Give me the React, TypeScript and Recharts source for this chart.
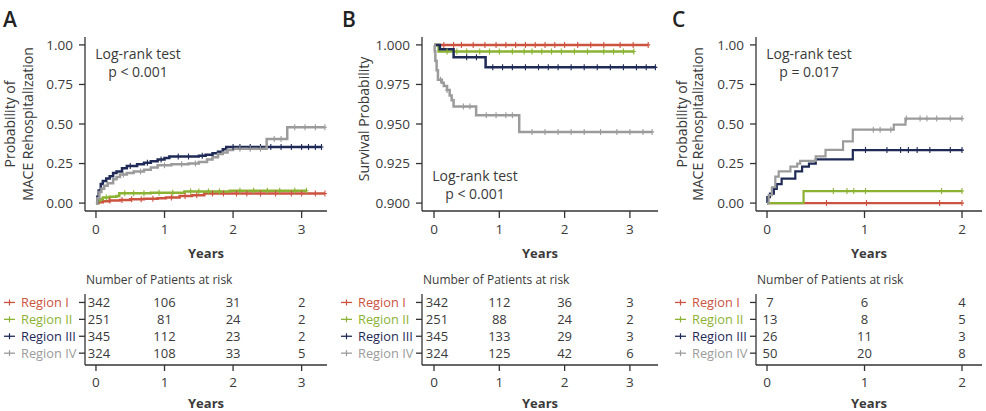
import React from 'react';
import { ComposedChart, Line, XAxis, YAxis, Scatter, Customized } from 'recharts';

type Step = [number, number];

const FONT = '"Open Sans", "Noto Sans", sans-serif';
const INK = '#3a3a3a';
const AXIS = '#333333';

const regionNames = ['Region I', 'Region II', 'Region III', 'Region IV'];
const regionColors = ['#CC5340', '#8BB233', '#1F2A56', '#9B9B9B'];

// ---------- Panel A : MACE rehospitalization (cumulative incidence) ----------
const aStepsI: Step[] = [[0, 0], [0.04, 0.006], [0.1, 0.012], [0.2, 0.017], [0.35, 0.02], [0.5, 0.024], [0.7, 0.028], [0.9, 0.031], [1.02, 0.036], [1.22, 0.045], [1.4, 0.05], [1.58, 0.061], [3.34, 0.061]];
const aStepsII: Step[] = [[0, 0], [0.03, 0.015], [0.06, 0.025], [0.1, 0.035], [0.2, 0.04], [0.3, 0.045], [0.34, 0.063], [0.8, 0.066], [1.29, 0.074], [1.95, 0.078], [3.07, 0.078]];
const aStepsIII: Step[] = [[0, 0], [0.02, 0.04], [0.04, 0.08], [0.07, 0.12], [0.1, 0.14], [0.15, 0.155], [0.2, 0.17], [0.25, 0.19], [0.3, 0.2], [0.38, 0.22], [0.45, 0.235], [0.6, 0.245], [0.7, 0.255], [0.8, 0.265], [0.9, 0.275], [1.0, 0.285], [1.07, 0.295], [1.5, 0.3], [1.6, 0.305], [1.7, 0.315], [1.78, 0.325], [1.85, 0.34], [1.9, 0.355], [3.29, 0.355]];
const aStepsIV: Step[] = [[0, 0], [0.02, 0.03], [0.05, 0.07], [0.08, 0.09], [0.12, 0.11], [0.17, 0.125], [0.25, 0.15], [0.3, 0.165], [0.35, 0.18], [0.45, 0.19], [0.55, 0.2], [0.7, 0.21], [0.8, 0.225], [0.9, 0.24], [1.1, 0.245], [1.35, 0.25], [1.5, 0.26], [1.62, 0.275], [1.7, 0.29], [1.78, 0.31], [1.85, 0.32], [1.92, 0.335], [2.0, 0.343], [2.49, 0.405], [2.79, 0.479], [3.34, 0.479]];
const aCensorI = [0.2, 0.38, 0.52, 0.66, 0.83, 1.1, 1.3, 1.47, 1.7, 1.86, 2.05, 2.2, 2.4, 2.62, 2.85, 3.0, 3.2, 3.34];
const aCensorII = [0.15, 0.42, 0.55, 0.7, 0.92, 1.12, 1.38, 1.5, 1.64, 1.8, 2.1, 2.3, 2.5, 2.68, 2.9, 3.07];
const aCensorIII = [0.5, 0.75, 0.95, 1.2, 1.35, 1.55, 2.0, 2.1, 2.25, 2.4, 2.55, 2.7, 2.85, 3.0, 3.1, 3.2, 3.29];
const aCensorIV = [0.4, 0.65, 1.0, 1.25, 1.45, 2.1, 2.25, 2.4, 2.6, 2.7, 2.9, 3.05, 3.2, 3.34];

// ---------- Panel B : survival probability ----------
const bStepsI: Step[] = [[0, 1], [3.28, 1]];
const bStepsII: Step[] = [[0, 1], [0.07, 0.9958], [3.06, 0.9958]];
const bStepsIII: Step[] = [[0, 1], [0.09, 0.9972], [0.3, 0.9922], [0.79, 0.9858], [3.39, 0.9858]];
const bStepsIV: Step[] = [[0, 1], [0.01, 0.996], [0.02, 0.99], [0.04, 0.984], [0.06, 0.978], [0.12, 0.976], [0.15, 0.974], [0.2, 0.9715], [0.24, 0.968], [0.27, 0.965], [0.3, 0.961], [0.645, 0.9555], [1.305, 0.945], [3.34, 0.945]];
const bCensorI = [0.15, 0.3, 0.42, 0.6, 0.78, 0.95, 1.1, 1.25, 1.4, 1.55, 1.7, 1.85, 2.0, 2.2, 2.4, 2.6, 2.85, 3.05, 3.28];
const bCensorII = [0.2, 0.35, 0.5, 0.7, 0.85, 1.0, 1.2, 1.38, 1.5, 1.65, 1.8, 1.95, 2.15, 2.35, 2.6, 2.75, 2.9, 3.06];
const bCensorIII = [0.5, 0.65, 0.9, 1.05, 1.2, 1.4, 1.6, 1.75, 1.9, 2.1, 2.3, 2.5, 2.7, 2.9, 3.1, 3.25, 3.39];
const bCensorIV = [0.1, 0.2, 0.45, 0.55, 0.8, 0.95, 1.1, 1.2, 1.5, 1.7, 1.9, 2.1, 2.3, 2.55, 2.8, 3.0, 3.2, 3.34];

// ---------- Panel C : MACE rehospitalization ----------
const cStepsI: Step[] = [[0, 0], [2.0, 0]];
const cStepsII: Step[] = [[0, 0], [0.375, 0.076], [2.0, 0.076]];
const cStepsIII: Step[] = [[0, 0], [0.003, 0.038], [0.03, 0.06], [0.07, 0.09], [0.1, 0.12], [0.15, 0.155], [0.29, 0.2], [0.36, 0.23], [0.43, 0.25], [0.5, 0.277], [0.88, 0.335], [2.0, 0.335]];
const cStepsIV: Step[] = [[0, 0], [0.017, 0.05], [0.05, 0.1], [0.085, 0.167], [0.12, 0.2], [0.24, 0.23], [0.31, 0.25], [0.34, 0.267], [0.5, 0.295], [0.6, 0.336], [0.78, 0.39], [0.88, 0.464], [1.3, 0.496], [1.42, 0.534], [2.0, 0.534]];
const cCensorI = [0.61, 1.02, 1.77, 2.0];
const cCensorII = [0.68, 0.82, 0.89, 1.01, 1.79, 2.0];
const cCensorIII = [1.01, 1.23, 1.37, 1.45, 1.54, 1.67, 1.88, 2.0];
const cCensorIV = [1.09, 1.16, 1.27, 1.43, 1.57, 1.64, 1.74, 1.88, 2.0];

// ---------- Numbers at risk ----------
const riskTimesAB = [0, 1, 2, 3];
const riskTimesC = [0, 1, 2];
const riskA_I = [342, 106, 31, 2];
const riskA_II = [251, 81, 24, 2];
const riskA_III = [345, 112, 23, 2];
const riskA_IV = [324, 108, 33, 5];
const riskB_I = [342, 112, 36, 3];
const riskB_II = [251, 88, 24, 2];
const riskB_III = [345, 133, 29, 3];
const riskB_IV = [324, 125, 42, 6];
const riskC_I = [7, 6, 4];
const riskC_II = [13, 8, 5];
const riskC_III = [26, 11, 3];
const riskC_IV = [50, 20, 8];

// ---------- Axis ticks ----------
const probTicks = [0, 0.25, 0.5, 0.75, 1];
const survTicks = [0.9, 0.925, 0.95, 0.975, 1];
const yearTicks3 = [0, 1, 2, 3];
const yearTicks2 = [0, 1, 2];
const rowTicks = [1, 2, 3, 4];

function buildSeries(steps: Step[], censor: number[]) {
  const pts = steps.map(([t, v]) => ({ t, v, c: false }));
  censor.forEach((t) => {
    let v = steps[0][1];
    for (const [st, sv] of steps) if (st <= t) v = sv;
    pts.push({ t, v, c: true });
  });
  pts.sort((a, b) => a.t - b.t || (a.c ? 1 : 0) - (b.c ? 1 : 0));
  return pts;
}

function buildRisk(times: number[], rows: number[][]) {
  const out: { t: number; row: number; n: number }[] = [];
  rows.forEach((vals, r) => vals.forEach((n, i) => out.push({ t: times[i], row: r + 1, n })));
  return out;
}

const censorDot = (color: string) => (props: any) => {
  const { cx, cy, payload, index } = props;
  if (!payload || !payload.c || cx == null || cy == null) return <g key={`d${index}`} />;
  return (
    <path
      key={`d${index}`}
      d={`M${cx - 2},${cy}H${cx + 2}M${cx},${cy - 3}V${cy + 3}`}
      stroke={color}
      strokeWidth={1.1}
      fill="none"
    />
  );
};

type PanelCfg = {
  left: number;
  width: number;
  yAxisWidth: number;
  marginRight: number;
  xDomain: [number, number];
  xTicks: number[];
  yDomain: [number, number];
  yTicks: number[];
  yDigits: number;
  series: { t: number; v: number; c: boolean }[][];
  risk: { t: number; row: number; n: number }[];
  letter: string;
  letterX: number;
  titleLines: { x: number; text: string }[];
  titleY: number;
  testX: number;
  testY: number;
  pText: string;
  lineWidth: number;
};

const panels: PanelCfg[] = [
  {
    left: 0, width: 330, yAxisWidth: 85, marginRight: 3,
    xDomain: [-0.16, 3.37], xTicks: yearTicks3,
    yDomain: [-0.05, 1.05], yTicks: probTicks, yDigits: 2,
    series: [buildSeries(aStepsI, aCensorI), buildSeries(aStepsII, aCensorII), buildSeries(aStepsIII, aCensorIII), buildSeries(aStepsIV, aCensorIV)],
    risk: buildRisk(riskTimesAB, [riskA_I, riskA_II, riskA_III, riskA_IV]),
    letter: 'A', letterX: 3,
    titleLines: [{ x: 9, text: 'Probability of' }, { x: 27, text: 'MACE Rehospitalization' }], titleY: 124,
    testX: 138, testY: 59, pText: 'p < 0.001', lineWidth: 2.5,
  },
  {
    left: 330, width: 330, yAxisWidth: 92, marginRight: 2,
    xDomain: [-0.184, 3.43], xTicks: yearTicks3,
    yDomain: [0.895, 1.005], yTicks: survTicks, yDigits: 3,
    series: [buildSeries(bStepsI, bCensorI), buildSeries(bStepsII, bCensorII), buildSeries(bStepsIII, bCensorIII), buildSeries(bStepsIV, bCensorIV)],
    risk: buildRisk(riskTimesAB, [riskB_I, riskB_II, riskB_III, riskB_IV]),
    letter: 'B', letterX: 12,
    titleLines: [{ x: 33, text: 'Survival Probability' }], titleY: 119,
    testX: 145, testY: 181, pText: 'p < 0.001', lineWidth: 2.5,
  },
  {
    left: 660, width: 326, yAxisWidth: 96, marginRight: 4,
    xDomain: [-0.113, 2.205], xTicks: yearTicks2,
    yDomain: [-0.05, 1.05], yTicks: probTicks, yDigits: 2,
    series: [buildSeries(cStepsI, cCensorI), buildSeries(cStepsII, cCensorII), buildSeries(cStepsIII, cCensorIII), buildSeries(cStepsIV, cCensorIV)],
    risk: buildRisk(riskTimesC, [riskC_I, riskC_II, riskC_III, riskC_IV]),
    letter: 'C', letterX: 12,
    titleLines: [{ x: 21, text: 'Probability of' }, { x: 37, text: 'MACE Rehospitalization' }], titleY: 124,
    testX: 149, testY: 59, pText: 'p = 0.017', lineWidth: 2.2,
  },
];

const RegionTick = (props: any) => {
  const { x, y, payload } = props;
  const i = Math.round(payload.value) - 1;
  const c = regionColors[i];
  return (
    <g>
      <line x1={x - 73} x2={x - 62} y1={y} y2={y} stroke={c} strokeWidth={1.3} />
      <line x1={x - 67.5} x2={x - 67.5} y1={y - 3} y2={y + 3} stroke={c} strokeWidth={1.2} />
      <text x={x - 56} y={y} dy="0.36em" fill={c} fontSize={12.8} fontFamily={FONT}>
        {regionNames[i]}
      </text>
    </g>
  );
};

const renderCount = (props: any) => {
  const { cx, cy, payload } = props;
  return (
    <text x={cx + (payload.t === 0 ? 3 : 0)} y={cy} dy="0.36em" textAnchor="middle" fill={INK} fontSize={13} fontFamily={FONT}>
      {payload.n}
    </text>
  );
};

function Panel({ p }: { p: PanelCfg }) {
  const topH = 262;
  const tableH = 149;
  return (
    <>
      <div style={{ position: 'absolute', left: p.left, top: 0 }}>
        <ComposedChart width={p.width} height={topH} margin={{ top: 37, right: p.marginRight, bottom: 0, left: 0 }}>
          <XAxis
            dataKey="t" type="number" domain={p.xDomain} ticks={p.xTicks} allowDataOverflow interval={0}
            height={topH - 211} tickSize={7} tickMargin={6} stroke={AXIS} strokeWidth={1.3}
            tick={{ fill: INK, fontSize: 13.5, fontFamily: FONT }}
            label={{ value: 'Years', position: 'insideBottom', offset: 4, fill: INK, fontSize: 13, fontWeight: 700, fontFamily: FONT }}
          />
          <YAxis
            type="number" domain={p.yDomain} ticks={p.yTicks} allowDataOverflow interval={0}
            width={p.yAxisWidth} tickSize={6} tickMargin={6} stroke={AXIS} strokeWidth={1.3}
            tick={{ fill: INK, fontSize: 13.5, fontFamily: FONT }}
            tickFormatter={(v: number) => v.toFixed(p.yDigits)}
          />
          {p.series.map((d, i) => (
            <Line
              key={i} data={d} dataKey="v" type="stepAfter" stroke={regionColors[i]} strokeWidth={p.lineWidth}
              dot={censorDot(regionColors[i])} activeDot={false} isAnimationActive={false}
            />
          ))}
          <Customized
            component={() => (
              <g fontFamily={FONT}>
                <text x={p.letterX} y={27} fontSize={21} fontWeight={600} fill="#222">{p.letter}</text>
                {p.titleLines.map((l, k) => (
                  <text key={k} x={l.x} y={p.titleY} transform={`rotate(-90 ${l.x} ${p.titleY})`} textAnchor="middle" dominantBaseline="central" fontSize={14} fill={INK}>
                    {l.text}
                  </text>
                ))}
                <text x={p.testX} y={p.testY} textAnchor="middle" fontSize={14} fill={INK}>Log-rank test</text>
                <text x={p.testX} y={p.testY + 17.5} textAnchor="middle" fontSize={14} fill={INK}>{p.pText}</text>
              </g>
            )}
          />
        </ComposedChart>
      </div>
      <div style={{ position: 'absolute', left: p.left, top: topH }}>
        <ComposedChart width={p.width} height={tableH} margin={{ top: 32, right: p.marginRight, bottom: 0, left: 0 }}>
          <XAxis
            dataKey="t" type="number" domain={p.xDomain} ticks={p.xTicks} allowDataOverflow interval={0}
            height={tableH - 103} tickSize={6} tickMargin={6} stroke={AXIS} strokeWidth={1.3}
            tick={{ fill: INK, fontSize: 13.5, fontFamily: FONT }}
            label={{ value: 'Years', position: 'insideBottom', offset: 3, fill: INK, fontSize: 13, fontWeight: 700, fontFamily: FONT }}
          />
          <YAxis
            dataKey="row" type="number" domain={[0.5, 4.7]} reversed ticks={rowTicks} allowDataOverflow interval={0}
            width={p.yAxisWidth} tickSize={6} tickMargin={2} stroke={AXIS} strokeWidth={1.3}
            tick={<RegionTick />}
          />
          <Scatter data={p.risk} shape={renderCount} isAnimationActive={false} />
          <Customized
            component={() => (
              <text x={p.yAxisWidth + 1} y={22} fontSize={12} fill={INK} fontFamily={FONT}>
                Number of Patients at risk
              </text>
            )}
          />
        </ComposedChart>
      </div>
    </>
  );
}

export default function App() {
  return (
    <div style={{ position: 'absolute', left: 0, top: 0, width: 986, height: 411, background: '#fff', fontFamily: FONT }}>
      {panels.map((p) => (
        <Panel key={p.letter} p={p} />
      ))}
    </div>
  );
}
